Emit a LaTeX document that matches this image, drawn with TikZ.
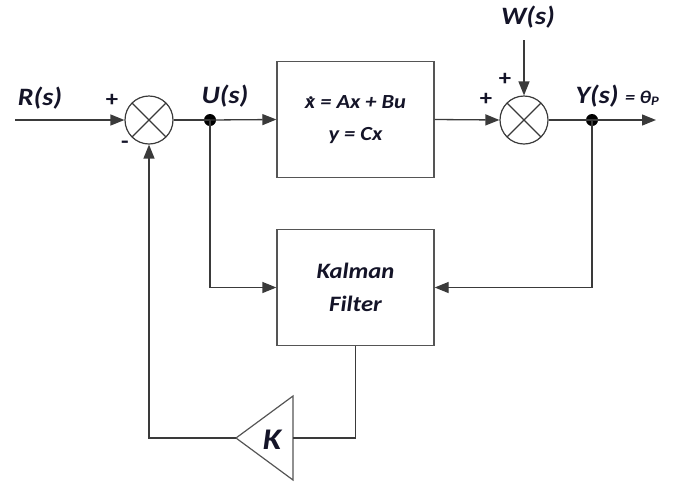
\documentclass[tikz,border=0pt]{standalone}
\usepackage{fontspec}
\setmainfont{Carlito}[FakeStretch=1.12]
\usetikzlibrary{arrows.meta}
\definecolor{linec}{HTML}{3A3A3A}
\definecolor{boxc}{HTML}{555555}
\definecolor{txtc}{HTML}{141428}
\newcommand{\xdotchar}{{\ooalign{x\cr\hidewidth\hspace{0.12em}\raisebox{0.45em}{.}\hidewidth\cr}}}
\begin{document}
\begin{tikzpicture}[x=1pt,y=-1pt,
  line width=1.3pt,
  lbl/.style={font=\bfseries\itshape\fontsize{25}{27}\selectfont, text=txtc, inner sep=0pt},
  small/.style={font=\bfseries\fontsize{22}{22}\selectfont, text=txtc, inner sep=0pt},
  blk/.style={draw=boxc, line width=1.3pt, minimum width=157pt, minimum height=116pt, align=center,
     text=txtc},
  sumc/.style={circle, draw=linec, line width=1.2pt, minimum size=48pt, inner sep=0pt,
     path picture={\draw[linec, line width=1.1pt] (path picture bounding box.north west) -- (path picture bounding box.south east)
        (path picture bounding box.north east) -- (path picture bounding box.south west);}},
  arr/.style={draw=linec, -{Triangle[length=14pt,width=11pt]}},
  ln/.style={draw=linec},
  dot/.style={circle, fill=black, minimum size=12pt, inner sep=0pt}]
\useasboundingbox (0,0) rectangle (687,483);

\node[sumc] (s1) at (149,120) {};
\node[sumc] (s2) at (524,120) {};
\node[blk, font=\bfseries\itshape\fontsize{20}{32}\selectfont] (plant) at (355.5,119.5) {\xdotchar{} = Ax + Bu\\y = Cx};
\node[blk, font=\bfseries\itshape\fontsize{22}{33}\selectfont] (kf) at (355.5,287.5) {Kalman\\Filter};
\node[dot] (ju) at (210,120) {};
\node[dot] (jy) at (592,120) {};
\coordinate (rin) at (15,120);
\coordinate (win) at (524,40);
\coordinate (yout) at (656,120);

% K triangle
\coordinate (kin) at (293,438);
\coordinate (kout) at (236,438);
\draw[draw=boxc, line width=1.2pt] (293,396) -- (293,480) -- (236,438) -- cycle;
\node[lbl, font=\bfseries\itshape\fontsize{30}{32}\selectfont] (klbl) at (272,440) {K};

% labels
\node[lbl] (rl) at (40,98) {R(s)};
\node[lbl] (ul) at (225,96) {U(s)};
\node[lbl] (wl) at (528,17) {W(s)};
\node[lbl, anchor=west] (yl) at (575,96) {Y(s) \fontsize{18}{18}\selectfont= θ\textsubscript{\fontsize{13}{13}\selectfont P}};
\node[small] (p1) at (112,100) {+};
\node[small] (m1) at (125,145) {-};
\node[small] (p2) at (486,99) {+};
\node[small] (p3) at (505,79) {+};

% connectors
\draw[arr] (rin) -- (s1.west);
\draw[ln] (s1.east) -- (ju.center);
\draw[arr] (ju.center) -- (plant.west);
\draw[arr] (plant.east) -- (s2.west);
\draw[arr] (win) -- (s2.north);
\draw[ln] (s2.east) -- (jy.center);
\draw[arr] (jy.center) -- (yout);
\draw[arr] (ju.center) |- (kf.west);
\draw[arr] (jy.center) |- (kf.east);
\draw[ln] (kf.south) |- (kin);
\draw[arr] (kout) -| (s1.south);
\end{tikzpicture}
\end{document}
